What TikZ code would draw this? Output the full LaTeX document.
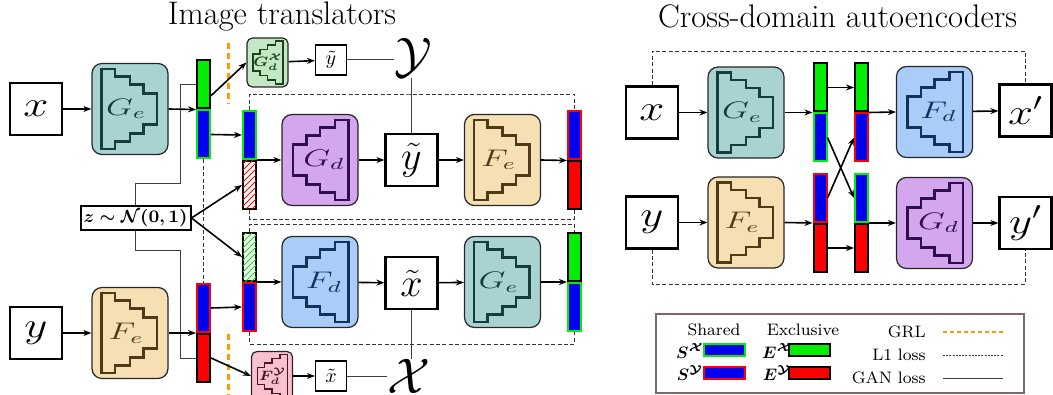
\RequirePackage{fix-cm}
\documentclass[tikz,border=0pt]{standalone}
\usepackage{amsmath}
\usetikzlibrary{arrows.meta,patterns,calc}
\definecolor{geF}{HTML}{A9D3D1}\definecolor{geL}{HTML}{173C3C}
\definecolor{feF}{HTML}{F5DFB3}\definecolor{feL}{HTML}{4D3B17}
\definecolor{gdF}{HTML}{D3A6EE}\definecolor{gdL}{HTML}{2E0E4E}
\definecolor{fdF}{HTML}{A9CDF8}\definecolor{fdL}{HTML}{12325A}
\definecolor{smG}{HTML}{C3E8C3}\definecolor{smGL}{HTML}{1F401F}
\definecolor{smP}{HTML}{F8C1CD}\definecolor{smPL}{HTML}{4A1525}
\definecolor{cgreen}{HTML}{00EE00}\definecolor{cblue}{HTML}{0000F0}
\definecolor{cred}{HTML}{FF0000}\definecolor{corange}{HTML}{FF9A00}
\definecolor{legbord}{HTML}{806868}
\newcommand\stairpath{(-28.5,-40) -- (-15,-40) -- (-15,-32.5) -- (0,-32.5) -- (0,-24.5) -- (13.5,-24.5) -- (13.5,-15.5) -- (27,-15.5) -- (27,15.5) -- (13.5,15.5) -- (13.5,24.5) -- (0,24.5) -- (0,32.5) -- (-15,32.5) -- (-15,40) -- (-28.5,40) -- cycle}
% #1 name, #2 position, #3 fill, #4 line colour, #5 label, #6 xscale (1 encoder, -1 decoder), #7 label xshift
\newcommand\bignet[7]{%
  \node[netbox, fill=#3, minimum width=38pt, minimum height=45.5pt, rounded corners=5pt] (#1) at (#2) {};
  \draw[draw=#4, line width=1.3pt, shift={(#1.center)}, xscale=#6] \stairpath;
  \node[inner sep=0pt, text=#4, xshift=#7, font=\fontsize{12}{14}\selectfont] (#1l) at (#1.center) {\scalebox{1.45}[1]{#5}};
}
\newcommand\smallnet[5]{%
  \node[netbox, fill=#3, minimum width=20.5pt, minimum height=24.5pt, rounded corners=2.7pt] (#1) at (#2) {};
  \draw[draw=#4, line width=0.75pt, shift={(#1.center)}, scale=0.54, xscale=-1] \stairpath;
  \node[inner sep=0pt, text=#4, xshift=0.3pt, font=\fontsize{6.8}{8}\selectfont\boldmath] (#1l) at (#1.center) {\scalebox{1.12}[1]{#5}};
}
\begin{document}
\begin{tikzpicture}[x=0.5pt,y=-0.5pt,
  iobox/.style={draw, line width=1.1pt, minimum width=26pt, minimum height=26pt, inner sep=0pt, fill=white, font=\fontsize{18}{20}\selectfont},
  midbox/.style={iobox, font=\fontsize{20}{21}\selectfont},
  smio/.style={draw, line width=0.6pt, minimum width=15.5pt, minimum height=15pt, inner sep=0pt, fill=white, font=\fontsize{10}{12}\selectfont},
  netbox/.style={draw=black!85, line width=0.6pt, inner sep=0pt},
  bar/.style={minimum width=6.5pt, minimum height=24pt, inner sep=0pt, line width=1pt, draw=black},
  ebx/.style={bar, fill=cgreen},
  eby/.style={bar, fill=cred},
  shx/.style={bar, fill=cblue, draw=cgreen},
  shy/.style={bar, fill=cblue, draw=cred},
  hatr/.style={bar, fill=white, postaction={pattern=north east lines, pattern color=cred}},
  hatg/.style={bar, fill=white, postaction={pattern=north east lines, pattern color=cgreen}},
  arr/.style={-{Stealth[length=4pt,width=3pt]}, line width=0.8pt},
  gan/.style={line width=0.5pt, draw=black!75},
  lone/.style={line width=0.4pt, draw=black!80, dash pattern=on 2pt off 1.2pt},
  grl/.style={line width=1.5pt, draw=corange, dash pattern=on 3pt off 2pt},
  leg/.style={font=\fontsize{8.3}{10}\selectfont, inner sep=0pt},
  title/.style={font=\fontsize{16.3}{19}\selectfont, inner sep=0pt}
]
\useasboundingbox (0,0) rectangle (1053,395);
% titles
\node[title] (t1) at (282,16.5) {Image translators};
\node[title] (t2) at (837.5,16.5) {Cross-domain autoencoders};

% ===== left: inputs and encoders
\node[iobox] (x1) at (36,109) {\scalebox{1.25}[1]{$x$}};
\bignet{ge1}{130,109}{geF}{geL}{$G_e$}{1}{-2pt}
\node[iobox] (y1) at (36,333) {\scalebox{1.25}[1]{$y$}};
\bignet{fe1}{130,333}{feF}{feL}{$F_e$}{1}{-2pt}
\node[ebx, anchor=south] (ex1) at (203.5,109.5) {};
\node[shx, anchor=north] (sx1) at (203.5,109.5) {};
\node[shy, anchor=south] (sy1) at (203.5,333) {};
\node[eby, anchor=north] (ey1) at (203.5,333) {};
\node[draw, line width=1pt, fill=white, inner sep=1.5pt, font=\fontsize{8.8}{10}\selectfont\boldmath] (z) at (135.5,218) {$z\sim\mathcal{N}(0,1)$};

% ===== top translator
\node[shx, anchor=south] (sxa) at (249.5,160) {};
\node[hatr, anchor=north] (zhr) at (249.5,160) {};
\bignet{gd1}{320,160}{gdF}{gdL}{$G_d$}{-1}{2pt}
\node[midbox] (yt) at (411.5,160) {$\tilde{y}$};
\bignet{fe2}{502.5,160}{feF}{feL}{$F_e$}{1}{-2pt}
\node[shy, anchor=south] (syo) at (574.5,160.5) {};
\node[eby, anchor=north] (eyo) at (574.5,160.5) {};

% ===== bottom translator
\node[hatg, anchor=south] (zhg) at (249.5,282) {};
\node[shy, anchor=north] (sya) at (249.5,282) {};
\bignet{fd1}{320,282}{fdF}{fdL}{$F_d$}{-1}{2pt}
\node[midbox] (xt) at (411.5,283) {$\tilde{x}$};
\bignet{ge2}{502.5,282}{geF}{geL}{$G_e$}{1}{-2pt}
\node[ebx, anchor=south] (exo) at (574.5,282) {};
\node[shx, anchor=north] (sxo) at (574.5,282) {};

% ===== small discriminator branches
\smallnet{gdx}{267.5,62.5}{smG}{smGL}{$G_d^{\mathcal{X}}$}
\node[smio] (yts) at (331,60) {$\tilde{y}$};
\node[inner sep=0pt, font=\fontsize{25}{27}\selectfont] (calY) at (413,58) {$\mathcal{Y}$};
\smallnet{fdy}{272,376}{smP}{smPL}{$F_d^{\mathcal{Y}}$}
\node[smio] (xts) at (331,376) {$\tilde{x}$};
\node[inner sep=0pt, font=\fontsize{25}{27}\selectfont] (calX) at (409,376) {$\mathcal{X}$};

% GRL markers
\coordinate (o1) at (228,43); \coordinate (o2) at (228,104);
\coordinate (o3) at (228,334); \coordinate (o4) at (228,398);
\draw[grl] (o1) -- (o2);
\draw[grl] (o3) -- (o4);

% L1 dashed
\draw[lone] (sx1.south) -- (sy1.north);
\coordinate (c1) at (410,94);
\coordinate (c2) at (410,219);
\coordinate (c3) at (410,224);
\coordinate (c4) at (410,344);
\draw[lone] (sxa.north) |- (c1) -| (syo.north);
\draw[lone] (zhr.south) |- (c2) -| (eyo.south);
\draw[lone] (zhg.north) |- (c3) -| (exo.north);
\draw[lone] (sya.south) |- (c4) -| (sxo.south);

% GAN thin lines
\coordinate (g1) at (180,184);
\coordinate (g2) at (180,250);
\draw[gan] (ex1.west) -| (g1) -| (z.north);
\draw[gan] (z.south) |- (g2) |- (ey1.west);
\draw[gan] (yts.east) -- (yts.east -| calY.west);
\draw[gan] (yt.north) -- (yt.north |- calY.south);
\draw[gan] (xts.east) -- (xts.east -| calX.west);
\draw[gan] (xt.south) -- (xt.south |- calX.north);

% arrows left
\draw[arr] (x1) -- (ge1);
\draw[arr] (ge1.east) -- (ex1.south west);
\draw[arr] (y1) -- (fe1);
\draw[arr] (fe1.east) -- (sy1.south west);
\draw[arr] ($(ex1.east)!0.45!(ex1.south east)$) -- (gdx.west);
\draw[arr] (ey1.east) -- (fdy.west);
\draw[arr] (gdx) -- (yts);
\draw[arr] (fdy) -- (xts);
\draw[arr] (sx1.east) -- (sxa.west);
\draw[arr] (sy1.east) -- (sya.west);
\draw[arr] (z.east) -- (zhr.west);
\draw[arr] (z.east) -- (zhg.west);
\draw[arr] (sxa.south east) -- (gd1.west);
\draw[arr] (gd1) -- (yt);
\draw[arr] (yt) -- (fe2);
\draw[arr] (fe2.east) -- (syo.south west);
\draw[arr] (zhg.south east) -- (fd1.west);
\draw[arr] (fd1) -- (xt);
\draw[arr] (xt) -- (ge2);
\draw[arr] (ge2.east) -- (exo.south west);

% ===== right panel
\node[iobox] (x2) at (652,112.5) {\scalebox{1.25}[1]{$x$}};
\bignet{ge3}{746,112.5}{geF}{geL}{$G_e$}{1}{-2pt}
\node[iobox] (y2) at (652,222.5) {\scalebox{1.25}[1]{$y$}};
\bignet{fe3}{746,222.5}{feF}{feL}{$F_e$}{1}{-2pt}
\node[ebx, anchor=south] (ex2) at (820,112.5) {};
\node[shx, anchor=north] (sx2) at (820,112.5) {};
\node[shy, anchor=south] (sy2) at (820,223) {};
\node[eby, anchor=north] (ey2) at (820,223) {};
\node[ebx, anchor=south] (ex3) at (861.5,112.5) {};
\node[shy, anchor=north] (sy3) at (861.5,112.5) {};
\node[shx, anchor=south] (sx3) at (861.5,223) {};
\node[eby, anchor=north] (ey3) at (861.5,223) {};
\bignet{fd2}{934.5,112}{fdF}{fdL}{$F_d$}{-1}{2pt}
\bignet{gd2}{934.5,223}{gdF}{gdL}{$G_d$}{-1}{2pt}
\node[iobox] (xp) at (1025.5,110.5) {\scalebox{1.25}[1]{$x'$}};
\node[iobox] (yp) at (1025.5,223) {\scalebox{1.25}[1]{$y'$}};
\coordinate (r1) at (840,51);
\coordinate (r2) at (840,284);
\draw[lone] (x2.north) |- (r1) -| (xp.north);
\draw[lone] (y2.south) |- (r2) -| (yp.south);
\draw[arr] (x2) -- (ge3);
\draw[arr] (ge3.east) -- (ex2.south west);
\draw[arr] (y2) -- (fe3);
\draw[arr] (fe3.east) -- (sy2.south west);
\draw[arr] (ex2.east) -- (ex3.west);
\draw[arr] (ey2.east) -- (ey3.west);
\draw[arr] (sx2.east) -- (sx3.west);
\draw[arr] (sy2.east) -- (sy3.west);
\draw[arr] (ex3.south east) -- (fd2.west);
\draw[arr] (sx3.south east) -- (gd2.west);
\draw[arr] (fd2) -- (xp);
\draw[arr] (gd2) -- (yp);

% ===== legend
\node[draw=legbord, line width=0.6pt, minimum width=184pt, minimum height=39.5pt, inner sep=0pt] (legbox) at (840,353.5) {};
\node[leg] (lsh) at (714,330) {Shared};
\node[leg] (lex) at (803,330) {Exclusive};
\node[leg, font=\fontsize{8.3}{10}\selectfont\boldmath] (lsxt) at (690,351) {$S^{\mathcal{X}}$};
\node[leg, font=\fontsize{8.3}{10}\selectfont\boldmath] (lsyt) at (690,373) {$S^{\mathcal{Y}}$};
\node[leg, font=\fontsize{8.3}{10}\selectfont\boldmath] (lext) at (777,351) {$E^{\mathcal{X}}$};
\node[leg, font=\fontsize{8.3}{10}\selectfont\boldmath] (leyt) at (777,373) {$E^{\mathcal{Y}}$};
\node[shx, minimum width=20.5pt, minimum height=6pt] (lsx) at (724.5,350) {};
\node[shy, minimum width=20.5pt, minimum height=6pt] (lsy) at (724.5,373) {};
\node[ebx, minimum width=20.5pt, minimum height=6pt] (lexb) at (809.5,350) {};
\node[eby, minimum width=20.5pt, minimum height=6pt] (leyb) at (809.5,373) {};
\node[leg, anchor=east] (lgrl) at (926,332) {GRL};
\node[leg, anchor=east] (ll1) at (926,355) {L1 loss};
\node[leg, anchor=east] (lgan) at (926,378) {GAN loss};
\coordinate (la1) at (943,332); \coordinate (lb1) at (1003,332);
\coordinate (la2) at (943,355); \coordinate (lb2) at (1003,355);
\coordinate (la3) at (943,378); \coordinate (lb3) at (1003,378);
\draw[grl, line width=1pt, dash pattern=on 2.2pt off 1.3pt] (la1) -- (lb1);
\draw[lone, dash pattern=on 1pt off 0.6pt] (la2) -- (lb2);
\draw[gan] (la3) -- (lb3);
\end{tikzpicture}
\end{document}
